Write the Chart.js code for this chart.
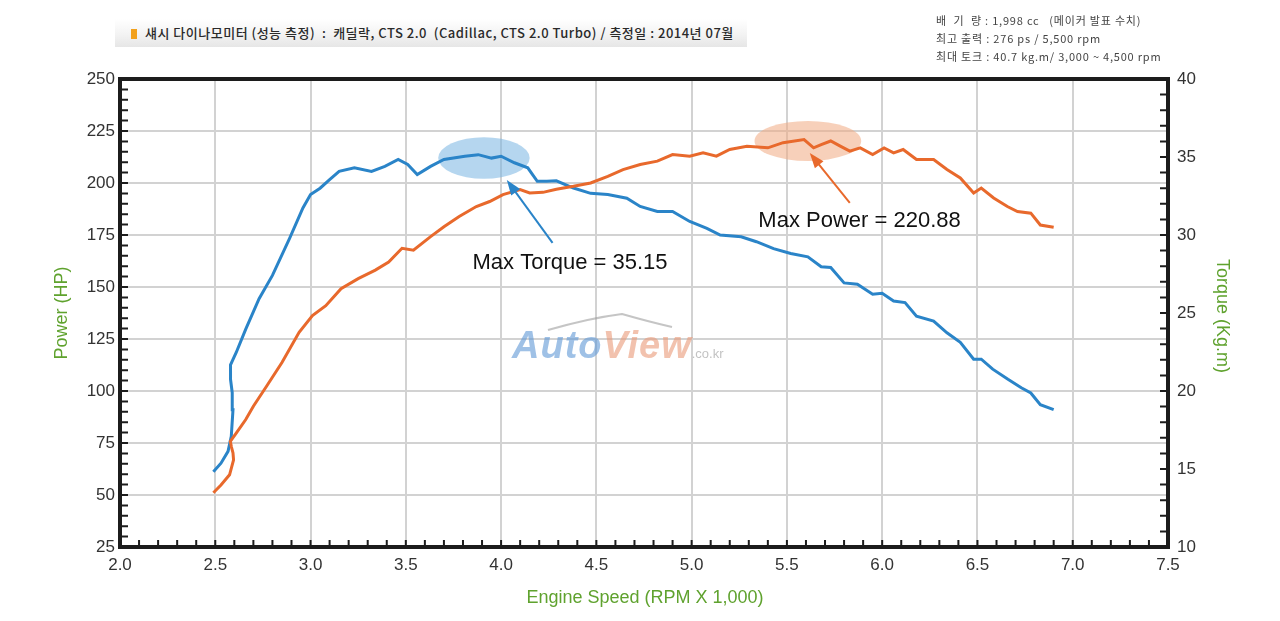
<!DOCTYPE html>
<html>
<head>
<meta charset="utf-8">
<title>CTS 2.0 dyno</title>
<script src="https://cdn.jsdelivr.net/npm/chart.js@4.4.1/dist/chart.umd.min.js"></script>
<style>
  body { margin: 0; background: #fff; }
  #wrap { position: relative; width: 1280px; height: 621px; overflow: hidden; }
  #dyno { position: absolute; left: 0; top: 0; }
  .head {
    position: absolute; left: 115px; top: 19px; width: 632px; height: 28px;
    background: linear-gradient(#ffffff, #f3f3f3 55%, #e6e6e6);
    font-family: "Noto Sans CJK KR", sans-serif; font-size: 13px; font-weight: 500; color: #2a2a2a;
    line-height: 28px; white-space: nowrap; letter-spacing: 0.5px;
  }
  .head i { display: inline-block; width: 6px; height: 10px; background: #f2a11c; margin: 0 8px 0 16px; vertical-align: -1px; }
  .spec {
    position: absolute; left: 936px; top: 11px;
    font-family: "Noto Sans CJK KR", sans-serif; font-size: 11px; color: #444;
    line-height: 18px; white-space: nowrap; letter-spacing: 0.8px;
  }
  .mark {
    position: absolute; left: 512px; top: 324px; white-space: nowrap;
    font-family: "Liberation Sans", Arial, sans-serif; font-weight: bold; font-style: italic;
    font-size: 38px; letter-spacing: 1px; opacity: 0.6;
  }
  .mark .a { color: #5f98d6; }
  .mark .v { color: #e99a78; }
  .mark .c { color: #999; font-size: 13px; font-style: normal; font-weight: normal; letter-spacing: 0; }
</style>
</head>
<body>
<div id="wrap">
  <canvas id="dyno" width="1280" height="621"></canvas>
  <div class="head"><i></i>섀시 다이나모미터 (성능 측정) &nbsp;: &nbsp;캐딜락, CTS 2.0 &nbsp;(Cadillac, CTS 2.0 Turbo) / 측정일 : 2014년 07월</div>
  <div class="spec">배 &nbsp;기 &nbsp;량 : 1,998 cc &nbsp;&nbsp;(메이커 발표 수치)<br>최고 출력 : 276 ps / 5,500 rpm<br>최대 토크 : 40.7 kg.m/ 3,000 ~ 4,500 rpm</div>
  <div class="mark"><span class="a">Auto</span><span class="v">View</span><span class="c">.co.kr</span></div>
</div>
<script>
// Power curve (HP, left axis)
var powerRpm = [2.49, 2.53, 2.575, 2.596, 2.593, 2.584, 2.579, 2.61, 2.66, 2.70, 2.77, 2.85, 2.94, 3.01,
  3.08, 3.16, 3.25, 3.34, 3.41, 3.48, 3.54, 3.63, 3.70, 3.78, 3.87, 3.94, 4.01, 4.10, 4.15, 4.22,
  4.29, 4.38, 4.47, 4.56, 4.64, 4.73, 4.82, 4.90, 4.99, 5.06, 5.13, 5.20, 5.29, 5.40, 5.48, 5.59,
  5.64, 5.68, 5.73, 5.78, 5.83, 5.885, 5.95, 6.01, 6.06, 6.11, 6.18, 6.27, 6.34, 6.41, 6.48, 6.52,
  6.585, 6.657, 6.71, 6.78, 6.83, 6.90];
var powerHp = [51.1, 54.8, 59.7, 66.9, 70.2, 73.4, 75.8, 79.8, 86.3, 92.7, 102.4, 113.7, 128.2, 136.3,
  141, 149.2, 154, 158.1, 162, 168.6, 167.7, 174.2, 179, 183.9, 188.7, 191.1, 194.4, 196.8, 195.2, 195.5,
  197, 198.4, 200, 203.2, 206.4, 208.9, 210.5, 213.7, 212.9, 214.5, 212.9, 216.1, 217.7, 216.9, 219.4, 220.88,
  216.9, 218.5, 220.2, 217.7, 215.3, 216.9, 213.7, 216.9, 214.5, 216.1, 211.3, 211.3, 206.5, 202.4, 195.2, 197.6,
  192.8, 188.7, 186.3, 185.5, 179.8, 178.7];

// Torque curve (kg.m, right axis)
var torqueRpm = [2.49, 2.53, 2.567, 2.584, 2.593, 2.589, 2.58, 2.58, 2.61, 2.66, 2.73, 2.80, 2.89, 2.96,
  3.00, 3.05, 3.10, 3.15, 3.23, 3.32, 3.39, 3.46, 3.51, 3.56, 3.63, 3.70, 3.81, 3.88, 3.95, 4.00,
  4.07, 4.14, 4.19, 4.24, 4.29, 4.38, 4.47, 4.56, 4.66, 4.73, 4.82, 4.90, 4.99, 5.08, 5.15, 5.26,
  5.34, 5.43, 5.52, 5.61, 5.68, 5.73, 5.80, 5.87, 5.95, 6.00, 6.06, 6.12, 6.18, 6.27, 6.34, 6.41,
  6.48, 6.52, 6.58, 6.66, 6.73, 6.78, 6.83, 6.90];
var torqueKgm = [14.83, 15.37, 16.13, 17.09, 18.8, 19.89, 20.75, 21.67, 22.47, 23.97, 25.92, 27.41, 29.79, 31.73,
  32.59, 33.0, 33.55, 34.08, 34.31, 34.08, 34.40, 34.84, 34.52, 33.87, 34.40, 34.84, 35.05, 35.15, 34.93, 35.05,
  34.63, 34.31, 33.44, 33.44, 33.47, 33.01, 32.67, 32.59, 32.36, 31.83, 31.51, 31.51, 30.87, 30.43, 30.00, 29.89,
  29.57, 29.13, 28.81, 28.60, 27.96, 27.92, 26.93, 26.84, 26.20, 26.27, 25.77, 25.67, 24.80, 24.48, 23.73, 23.12,
  22.04, 22.04, 21.40, 20.75, 20.21, 19.87, 19.12, 18.80];

// axis ranges
var rpmRange = [2.0, 7.5];
var powerRange = [25, 250];
var torqueRange = [10, 40];

var blue = '#2a84c8';
var orange = '#e8692c';
var green = '#5fa22e';
var tickFont = { family: '"Liberation Sans", Arial, sans-serif', size: 17 };

function toPoints(xs, ys) {
  return xs.map(function (x, i) { return { x: x, y: ys[i] }; });
}

// ellipses, arrows and labels round the peaks
var decor = {
  id: 'decor',
  beforeDatasetsDraw: function (chart) {
    var c = chart.ctx, x = chart.scales.x, y = chart.scales.y;
    function blob(cx, cy, rx, ry, col) {
      var px = x.getPixelForValue(cx), py = y.getPixelForValue(cy);
      var w = x.getPixelForValue(cx + rx) - px, h = py - y.getPixelForValue(cy + ry);
      c.save();
      c.fillStyle = col;
      c.beginPath();
      c.ellipse(px, py, w, h, 0, 0, Math.PI * 2);
      c.fill();
      c.restore();
    }
    blob(3.91, 212, 0.24, 10, 'rgba(120,180,225,0.55)');
    blob(5.61, 220.2, 0.28, 9.6, 'rgba(240,170,130,0.55)');

    // watermark swoosh
    c.save();
    c.strokeStyle = 'rgba(150,150,150,0.55)';
    c.lineWidth = 2;
    c.beginPath();
    c.moveTo(548, 330);
    c.quadraticCurveTo(590, 318, 622, 314);
    c.quadraticCurveTo(650, 322, 672, 327);
    c.stroke();
    c.restore();
  },
  afterDatasetsDraw: function (chart) {
    var c = chart.ctx, x = chart.scales.x, y = chart.scales.y;
    function arrow(x0, y0, x1, y1, col) {
      var ax = x.getPixelForValue(x0), ay = y.getPixelForValue(y0);
      var bx = x.getPixelForValue(x1), by = y.getPixelForValue(y1);
      var ang = Math.atan2(by - ay, bx - ax);
      c.save();
      c.strokeStyle = col; c.fillStyle = col; c.lineWidth = 2;
      c.beginPath(); c.moveTo(ax, ay); c.lineTo(bx - 10 * Math.cos(ang), by - 10 * Math.sin(ang)); c.stroke();
      c.beginPath();
      c.moveTo(bx, by);
      c.lineTo(bx - 16 * Math.cos(ang - 0.35), by - 16 * Math.sin(ang - 0.35));
      c.lineTo(bx - 16 * Math.cos(ang + 0.35), by - 16 * Math.sin(ang + 0.35));
      c.closePath(); c.fill();
      c.restore();
    }
    arrow(4.27, 171.2, 4.03, 201.4, blue);
    arrow(5.83, 190.4, 5.62, 214.4, orange);

    c.save();
    c.fillStyle = '#111';
    c.font = '22px "Liberation Sans", Arial, sans-serif';
    c.textBaseline = 'alphabetic';
    c.fillText('Max Torque = 35.15', x.getPixelForValue(3.85), y.getPixelForValue(158.6));
    c.fillText('Max Power = 220.88', x.getPixelForValue(5.35), y.getPixelForValue(178.8));
    c.restore();
  },
  afterDraw: function (chart) {
    var c = chart.ctx, a = chart.chartArea, s = chart.scales;
    c.save();
    c.strokeStyle = '#1c1c1c';
    c.lineWidth = 2;
    c.beginPath();
    var v;
    for (v = powerRange[0]; v <= powerRange[1]; v += 5) {
      var py = s.y.getPixelForValue(v);
      c.moveTo(a.left, py); c.lineTo(a.left + 8, py);
    }
    for (v = torqueRange[0]; v <= torqueRange[1]; v += 1) {
      var ty = s.y1.getPixelForValue(v);
      c.moveTo(a.right, ty); c.lineTo(a.right - 8, ty);
    }
    for (v = 20; v <= 75; v += 1) {
      var px = s.x.getPixelForValue(v / 10);
      c.moveTo(px, a.bottom); c.lineTo(px, a.bottom - 7);
    }
    c.stroke();
    c.lineWidth = 4;
    c.strokeRect(a.left, a.top, a.right - a.left, a.bottom - a.top);

    // axis titles
    c.fillStyle = green;
    c.font = '18px "Liberation Sans", Arial, sans-serif';
    c.textAlign = 'center';
    c.textBaseline = 'middle';
    c.fillText('Engine Speed (RPM X 1,000)', (a.left + a.right) / 2 + 1, 598);
    c.save();
    c.translate(62, 313);
    c.rotate(-Math.PI / 2);
    c.fillText('Power (HP)', 0, 0);
    c.restore();
    c.save();
    c.translate(1222, 316);
    c.rotate(Math.PI / 2);
    c.fillText('Torque (Kg.m)', 0, 0);
    c.restore();
    c.restore();
  }
};

var chart = new Chart(document.getElementById('dyno').getContext('2d'), {
  type: 'scatter',
  data: {
    datasets: [{
      label: 'Power (HP)',
      data: toPoints(powerRpm, powerHp),
      yAxisID: 'y',
      showLine: true,
      borderColor: orange,
      borderWidth: 3,
      pointRadius: 0,
      fill: false
    }, {
      label: 'Torque (Kg.m)',
      data: toPoints(torqueRpm, torqueKgm),
      yAxisID: 'y1',
      showLine: true,
      borderColor: blue,
      borderWidth: 3,
      pointRadius: 0,
      fill: false
    }]
  },
  options: {
    responsive: false,
    animation: false,
    devicePixelRatio: 1,
    layout: { padding: { top: 79 } },
    plugins: { legend: { display: false }, tooltip: { enabled: false } },
    scales: {
      x: {
        type: 'linear', position: 'bottom',
        min: rpmRange[0], max: rpmRange[1],
        afterFit: function (sc) { sc.height = 74; },
        grid: { color: '#d2d2d2', lineWidth: 2, drawTicks: false },
        border: { display: false },
        ticks: {
          stepSize: 0.5, autoSkip: false, maxRotation: 0, padding: 8,
          color: '#333', font: tickFont,
          callback: function (v) { return v.toFixed(1); }
        }
      },
      y: {
        type: 'linear', position: 'left',
        min: powerRange[0], max: powerRange[1],
        afterFit: function (sc) { sc.width = 120; },
        grid: { color: '#d2d2d2', lineWidth: 2, drawTicks: false },
        border: { display: false },
        ticks: { stepSize: 25, padding: 5, color: '#333', font: tickFont }
      },
      y1: {
        type: 'linear', position: 'right',
        min: torqueRange[0], max: torqueRange[1],
        afterFit: function (sc) { sc.width = 112; },
        grid: { display: false, drawTicks: false },
        border: { display: false },
        ticks: { stepSize: 5, padding: 9, color: '#333', font: tickFont }
      }
    }
  },
  plugins: [decor]
});
</script>
</body>
</html>
